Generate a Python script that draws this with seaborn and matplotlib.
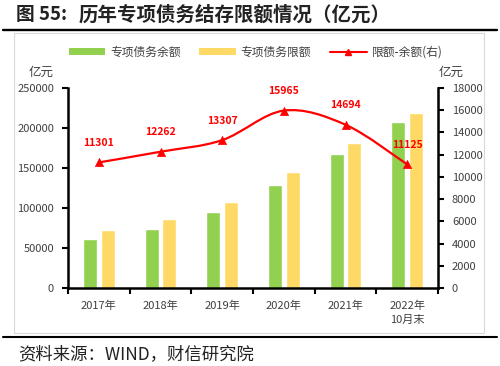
# 历年专项债务结存限额情况 - bars + smoothed line on right axis
import numpy as np
import pandas as pd
import seaborn as sns
import matplotlib.pyplot as plt
from matplotlib.path import Path
from matplotlib.patches import PathPatch, Patch, Rectangle
from matplotlib.lines import Line2D

# data
years = ['2017年', '2018年', '2019年', '2020年', '2021年', '2022年\n10月末']
balance = [61385, 73923, 94378, 129220, 166991, 207060]
limit = [72686, 86185, 107685, 145185, 181685, 218185]
gap_values = [11301, 12262, 13307, 15965, 14694, 11125]
series_names = ['专项债务余额', '专项债务限额']
line_name = '限额-余额(右)'
left_ticks = [0, 50000, 100000, 150000, 200000, 250000]
right_ticks = [0, 2000, 4000, 6000, 8000, 10000, 12000, 14000, 16000, 18000]

green = '#92D050'
yellow = '#FFD966'
red = '#FF0000'
label_gray = '#404040'

sns.set_style('ticks')
plt.rcParams['font.family'] = ['Noto Sans CJK SC', 'DejaVu Sans']
plt.rcParams['axes.unicode_minus'] = False

df = pd.DataFrame({
    'year': years * 2,
    'series': [series_names[0]] * len(years) + [series_names[1]] * len(years),
    'value': balance + limit,
})

fig = plt.figure(figsize=(5, 3.66), dpi=100)
ax = fig.add_axes([0.136, 0.2131, 0.74, 0.5465])

sns.barplot(data=df, x='year', y='value', hue='series', palette=[green, yellow],
            width=0.572, gap=0.21, saturation=1, legend=False, ax=ax)
ax.set_xlim(-0.5, 5.5)
ax.set_ylim(0, left_ticks[-1])
ax.set_yticks(left_ticks)
ax.set_xlabel('')
ax.set_ylabel('')
for s in ['top', 'right']:
    ax.spines[s].set_visible(False)
for s in ['left', 'bottom']:
    ax.spines[s].set_linewidth(1.8)
    ax.spines[s].set_color('black')

ax.set_xticks(np.arange(-0.5, len(years), 1), minor=True)
ax.tick_params(axis='x', which='minor', length=4, width=1.5, color='black')
ax.tick_params(axis='x', which='major', length=0, pad=9, labelsize=8, labelcolor=label_gray)
ax.tick_params(axis='y', length=4, width=1.5, color='black', pad=6, labelsize=8, labelcolor=label_gray)
for lbl in ax.get_xticklabels():
    lbl.set_linespacing(1.45)

# right axis: smoothed line
ax2 = ax.twinx()
xs = np.arange(len(gap_values))
pts = np.column_stack([xs, gap_values]).astype(float)
n = len(pts)
verts = [pts[0]]
codes = [Path.MOVETO]
for i in range(n - 1):
    p0 = pts[max(i - 1, 0)]
    p1 = pts[i]
    p2 = pts[i + 1]
    p3 = pts[min(i + 2, n - 1)]
    verts += [p1 + (p2 - p0) / 6, p2 - (p3 - p1) / 6, p2]
    codes += [Path.CURVE4] * 3
ax2.add_patch(PathPatch(Path(verts, codes), facecolor='none', edgecolor=red, lw=1.6, zorder=3))
sns.scatterplot(x=xs, y=gap_values, marker='^', color=red, edgecolor=red, s=35,
                legend=False, zorder=4, ax=ax2)
for xi, v in zip(xs, gap_values):
    ax2.annotate(f'{v}', (xi, v), xytext=(0, 14), textcoords='offset points',
                 ha='center', va='center', color=red, fontsize=7.5, fontweight='bold')

ax2.set_xlim(-0.5, 5.5)
ax2.set_ylim(0, right_ticks[-1])
ax2.set_yticks(right_ticks)
for s in ['top', 'left', 'bottom']:
    ax2.spines[s].set_visible(False)
ax2.spines['right'].set_linewidth(1.8)
ax2.spines['right'].set_color('black')
ax2.tick_params(axis='y', length=4, width=1.5, color='black', pad=6, labelsize=8, labelcolor=label_gray)

# units
fig.text(41 / 500, 1 - 72 / 366, '亿元', ha='center', va='center', fontsize=9, color=label_gray)
fig.text(451 / 500, 1 - 72 / 366, '亿元', ha='center', va='center', fontsize=9, color=label_gray)

# legend
handles = [Patch(facecolor=green, edgecolor='none'),
           Patch(facecolor=yellow, edgecolor='none'),
           Line2D([], [], color=red, lw=1.5, marker='^', ms=5)]
fig.legend(handles, series_names + [line_name], loc='center', bbox_to_anchor=(0.511, 1 - 52 / 366),
           ncol=3, frameon=False, fontsize=8.5, handlelength=3.1, handleheight=0.5,
           handletextpad=0.4, columnspacing=1.6, labelcolor=label_gray)

# title, frame and source
fig.text(16 / 500, 1 - 15 / 366, '图 55:', fontsize=13.5, fontweight='bold',
         ha='left', va='center', color='#222222')
fig.text(79 / 500, 1 - 15 / 366, '历年专项债务结存限额情况（亿元）', fontsize=14,
         fontweight='bold', ha='left', va='center', color='#222222')
fig.add_artist(Line2D([3 / 500, 497 / 500], [1 - 29.5 / 366] * 2, color='black', lw=1.7))
fig.add_artist(Rectangle((14 / 500, 1 - 333 / 366), 470 / 500, 300 / 366, fill=False,
                         ec='#D9D9D9', lw=0.8, zorder=-1))
fig.add_artist(Line2D([3 / 500, 497 / 500], [1 - 337 / 366] * 2, color='black', lw=1.5))
fig.text(18 / 500, 1 - 354 / 366, '资料来源：WIND，财信研究院', fontsize=12.5,
         ha='left', va='center', color='#222222')

fig.savefig('out.png', dpi=100)
